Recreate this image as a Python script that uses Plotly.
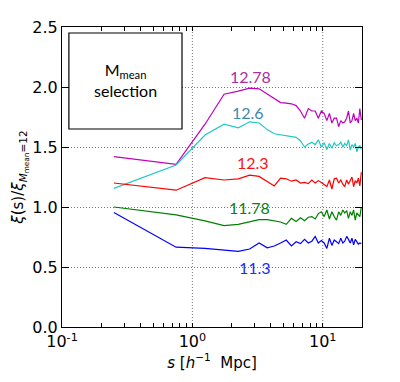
import math
import plotly.graph_objects as go

# bin centres, s [h^-1 Mpc]
s = [0.25, 0.75, 1.25, 1.75, 2.25, 2.75, 3.25, 3.75, 4.25, 4.75,
     5.25, 5.75, 6.25, 6.75, 7.25, 7.75, 8.25, 8.75, 9.25, 9.75,
     10.25, 10.75, 11.25, 11.75, 12.25, 12.75, 13.25, 13.75, 14.25, 14.75,
     15.25, 15.75, 16.25, 16.75, 17.25, 17.75, 18.25, 18.75, 19.25, 19.75]

ratio_1278 = [1.42, 1.355, 1.69, 1.94, 1.965, 1.99, 1.985, 1.94, 1.90, 1.87,
              1.865, 1.86, 1.845, 1.80, 1.74, 1.82, 1.80, 1.80, 1.74, 1.80,
              1.78, 1.72, 1.78, 1.70, 1.74, 1.74, 1.67, 1.72, 1.70, 1.71,
              1.74, 1.80, 1.70, 1.72, 1.78, 1.72, 1.74, 1.70, 1.82, 1.725]
ratio_126 = [1.155, 1.35, 1.60, 1.69, 1.66, 1.71, 1.70, 1.645, 1.61, 1.60,
             1.59, 1.585, 1.58, 1.55, 1.50, 1.525, 1.54, 1.52, 1.56, 1.50,
             1.535, 1.48, 1.53, 1.49, 1.535, 1.51, 1.52, 1.54, 1.50, 1.53,
             1.51, 1.56, 1.475, 1.52, 1.50, 1.53, 1.46, 1.50, 1.51, 1.48]
ratio_123 = [1.20, 1.14, 1.245, 1.225, 1.235, 1.265, 1.255, 1.215, 1.175, 1.24,
             1.235, 1.215, 1.225, 1.20, 1.205, 1.195, 1.225, 1.20, 1.22, 1.205,
             1.19, 1.17, 1.225, 1.15, 1.235, 1.24, 1.20, 1.225, 1.19, 1.17,
             1.225, 1.19, 1.22, 1.25, 1.17, 1.22, 1.20, 1.24, 1.175, 1.29]
ratio_1178 = [1.00, 0.935, 0.885, 0.845, 0.855, 0.88, 0.895, 0.895, 0.885, 0.875,
              0.855, 0.905, 0.88, 0.91, 0.885, 0.915, 0.92, 0.90, 0.945, 0.96,
              0.92, 0.975, 0.90, 0.96, 0.92, 0.89, 0.96, 0.93, 0.975, 0.95,
              0.97, 0.905, 0.96, 0.93, 0.975, 0.89, 0.95, 0.93, 0.92, 1.00]
ratio_113 = [0.955, 0.665, 0.655, 0.64, 0.63, 0.65, 0.70, 0.66, 0.675, 0.70,
             0.725, 0.675, 0.71, 0.695, 0.73, 0.70, 0.715, 0.755, 0.70, 0.72,
             0.70, 0.655, 0.74, 0.68, 0.725, 0.71, 0.695, 0.74, 0.70, 0.715,
             0.755, 0.73, 0.70, 0.74, 0.685, 0.73, 0.705, 0.69, 0.70, 0.695]

# label, values, line colour, text colour, label s, label y
series = [
    ("12.78", ratio_1278, "#bf00bf", "#a8309f", 2.79, 2.085),
    ("12.6", ratio_126, "#20c8c8", "#3a8aa8", 2.67, 1.79),
    ("12.3", ratio_123, "#ff0000", "#ff1010", 2.92, 1.375),
    ("11.78", ratio_1178, "#008000", "#108010", 2.74, 1.0),
    ("11.3", ratio_113, "#0000ff", "#1a2cff", 3.03, 0.50),
]

fig = go.Figure()
for name, vals, lc, tc, lx, ly in series:
    fig.add_trace(go.Scatter(x=s, y=vals, mode="lines", name=name,
                             line=dict(color=lc, width=1.2)))
    # log axis: annotation x is given in log10 units
    fig.add_annotation(x=math.log10(lx), y=ly, xref="x", yref="y", text=name,
                       showarrow=False, xanchor="center", yanchor="middle",
                       font=dict(family="Lato", size=16, color=tc))

dots = "1px,2px"
decades = [0.1, 1, 10]
# dotted grid at the inner decades (shapes take data values on a log axis)
for d in decades[1:]:
    fig.add_shape(type="line", xref="x", yref="paper", x0=d, x1=d,
                  y0=0, y1=1, layer="below", line=dict(color="#777", width=1, dash=dots))

fig.add_shape(type="rect", xref="paper", yref="paper",
              x0=0.023, x1=0.4, y0=0.66, y1=0.98,
              line=dict(color="black", width=1.2), fillcolor="white")
fig.add_annotation(xref="paper", yref="paper", x=0.212, y=0.825,
                   xanchor="center", yanchor="middle", align="center",
                   text="M<sub>mean</sub><br>selection", showarrow=False,
                   font=dict(family="Lato", size=16, color="black"))

# every log tick position; only the decades get a label
x_ticks = [v * d for d in decades for v in range(1, 10)] + [20]
x_labels = {0.1: "10<sup>-1</sup>", 1: "10<sup>0</sup>", 10: "10<sup>1</sup>"}
x_text = [x_labels.get(v, "") for v in x_ticks]

fig.update_layout(
    xaxis=dict(
        type="log", range=[-1, 1.30103],
        tickmode="array", tickvals=x_ticks, ticktext=x_text,
        ticks="inside", ticklen=4, tickcolor="black",
        showgrid=False,
        showline=True, linecolor="black", linewidth=1.2, mirror="ticks",
        tickfont=dict(family="DejaVu Sans", size=16, color="black"),
        title=dict(text="<i>s</i> [<i>h</i><sup>−1</sup>  Mpc]", standoff=6,
                   font=dict(family="DejaVu Sans", size=15, color="black")),
        zeroline=False, automargin=False,
    ),
    yaxis=dict(
        range=[0, 2.5], tickvals=[0, 0.5, 1.0, 1.5, 2.0, 2.5], tickformat=".1f",
        ticks="inside", ticklen=7, tickcolor="black",
        showgrid=True, gridcolor="#777", griddash=dots, gridwidth=1,
        showline=True, linecolor="black", linewidth=1.2, mirror="ticks",
        tickfont=dict(family="DejaVu Sans", size=16, color="black"),
        title=dict(text="<i>ξ</i>(s)/<i>ξ</i><sub><i>M</i><sub>mean</sub>=12</sub>", standoff=4,
                   font=dict(family="DejaVu Sans", size=15, color="black")),
        zeroline=False, automargin=False,
    ),
    # the page body adds an 8px offset, so the figure is 8px smaller than the window
    width=392, height=374,
    margin=dict(l=54, r=38, t=19, b=55),
    paper_bgcolor="white", plot_bgcolor="white",
    showlegend=False,
)
fig.write_html("out.html")
